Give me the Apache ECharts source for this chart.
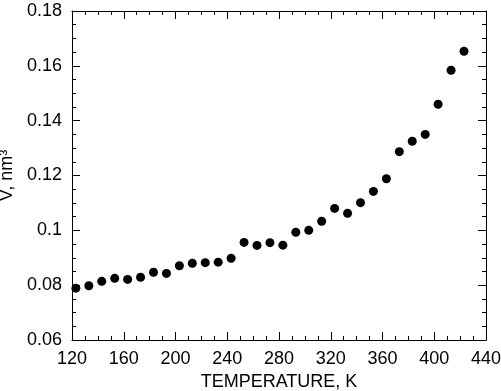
<!DOCTYPE html>
<html>
<head>
<meta charset="utf-8">
<script src="https://cdn.jsdelivr.net/npm/echarts@6/dist/echarts.min.js"></script>
<style>
  html, body { margin: 0; padding: 0; background: #fff; }
  #chart { width: 501px; height: 391px; }
</style>
</head>
<body>
<div id="chart"></div>
<script>
// temperature, K
var temps = [123, 133, 143, 153, 163, 173, 183, 193, 203, 213, 223, 233, 243, 253, 263,
  273, 283, 293, 303, 313, 323, 333, 343, 353, 363, 373, 383, 393, 403, 413, 423];
// volume, nm3
var volumes = [0.0789, 0.0798, 0.0814, 0.0825, 0.0821, 0.0829, 0.0847, 0.0843, 0.0871, 0.0880,
  0.0882, 0.0884, 0.0898, 0.0956, 0.0945, 0.0955, 0.0946, 0.0993, 0.1000, 0.1033,
  0.1080, 0.1062, 0.1101, 0.1142, 0.1188, 0.1287, 0.1325, 0.1350, 0.1460, 0.1584, 0.1653];
var yTickLabels = ['0.06', '0.08', '0.1', '0.12', '0.14', '0.16', '0.18'];

var font = 'Liberation Sans, Arial, sans-serif';

var points = [];
for (var i = 0; i < temps.length; i++) {
  points.push([temps[i], volumes[i]]);
}

function axisBits(showLabel) {
  return {
    axisLine: { show: true, lineStyle: { color: '#000', width: 1 } },
    axisTick: { show: true, inside: true, length: 8, lineStyle: { color: '#000' } },
    minorTick: { show: true, splitNumber: 4, length: 4, lineStyle: { color: '#000' } },
    splitLine: { show: false },
    axisLabel: { show: showLabel, color: '#000', fontSize: 18, fontFamily: font, margin: 10 }
  };
}

var chart = echarts.init(document.getElementById('chart'));
var xMain = Object.assign({
  type: 'value', min: 120, max: 440, interval: 40, position: 'bottom',
  name: 'TEMPERATURE, K', nameLocation: 'middle', nameGap: 31,
  nameTextStyle: { color: '#000', fontSize: 18, fontFamily: font }
}, axisBits(true));
var xTop = Object.assign({
  type: 'value', min: 120, max: 440, interval: 40, position: 'top'
}, axisBits(false));
var yMain = Object.assign({
  type: 'value', min: 0.06, max: 0.18, interval: 0.02, position: 'left',
  name: 'V, nm³', nameLocation: 'middle', nameGap: 44,
  nameTextStyle: { color: '#000', fontSize: 18, fontFamily: font }
}, axisBits(true));
yMain.axisLabel.formatter = function (v) {
  return yTickLabels[Math.round((v - 0.06) / 0.02)];
};
var yRight = Object.assign({
  type: 'value', min: 0.06, max: 0.18, interval: 0.02, position: 'right'
}, axisBits(false));

chart.setOption({
  animation: false,
  backgroundColor: '#fff',
  grid: { left: 72, right: 15, top: 11, bottom: 51, outerBoundsMode: 'none' },
  xAxis: [xMain, xTop],
  yAxis: [yMain, yRight],
  series: [{
    type: 'scatter',
    xAxisIndex: 0,
    yAxisIndex: 0,
    symbol: 'circle',
    symbolSize: 9,
    itemStyle: { color: '#000', opacity: 1 },
    data: points
  }]
});
</script>
</body>
</html>
